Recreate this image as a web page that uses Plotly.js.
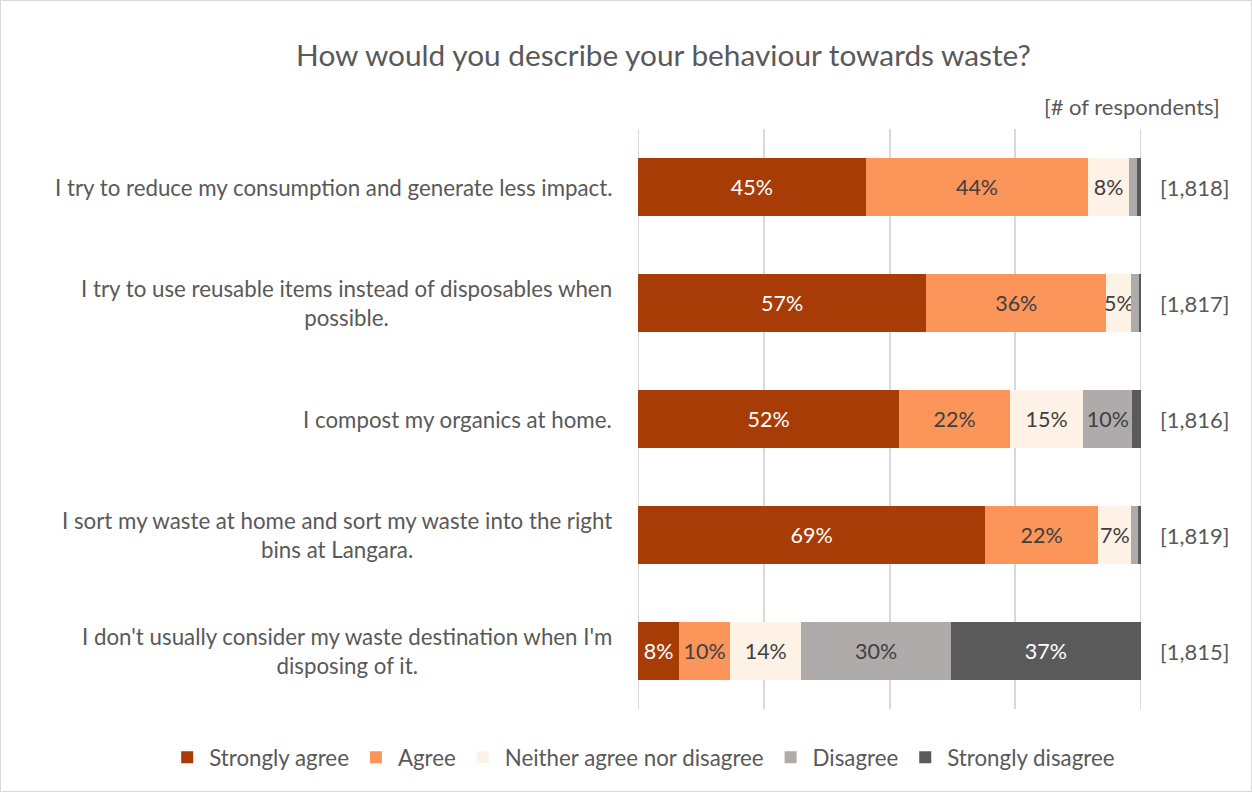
<!DOCTYPE html>
<html>
<head>
<meta charset="utf-8">
<script src="https://cdn.plot.ly/plotly-3.0.1.min.js"></script>
<style>
html,body{margin:0;padding:0;background:#fff;}
#chart{width:1252px;height:792px;box-sizing:border-box;border:1px solid #d9d9d9;}
</style>
</head>
<body>
<div id="chart"></div>
<script>
const categories = [
  "I try to reduce my consumption and generate less impact.",
  "I try to use reusable items instead of disposables when<br>possible.",
  "I compost my organics at home.",
  "I sort my waste at home and sort my waste into the right<br>bins at Langara.",
  "I don't usually consider my waste destination when I'm<br>disposing of it."
];
const respondents = ["[1,818]", "[1,817]", "[1,816]", "[1,819]", "[1,815]"];
const seriesNames = ["Strongly agree", "Agree", "Neither agree nor disagree", "Disagree", "Strongly disagree"];

// Bar lengths (% of respondents)
const stronglyAgree    = [45.3, 57.3, 51.9, 69.0, 8.2];
const agree            = [44.2, 35.8, 22.1, 22.5, 10.1];
const neither          = [8.1, 5.0, 14.5, 6.6, 14.2];
const disagree         = [1.6, 1.5, 9.8, 1.4, 29.7];
const stronglyDisagree = [0.8, 0.4, 1.7, 0.5, 37.8];

// Data labels as printed in the chart
const labelsSA  = ["45%", "57%", "52%", "69%", "8%"];
const labelsA   = ["44%", "36%", "22%", "22%", "10%"];
const labelsN   = ["8%", "5%", "15%", "7%", "14%"];
const labelsD   = ["", "", "10%", "", "30%"];
const labelsSD  = ["", "", "", "", "37%"];

// Axis grid positions
const gridTicks = [0, 25, 50, 75, 100];

const colors = ["#A83C06", "#FB955A", "#FEF1E6", "#AEABAA", "#5A5A5A"];
const textColors = ["#ffffff", "#404040", "#404040", "#404040", "#ffffff"];
const allSeries = [stronglyAgree, agree, neither, disagree, stronglyDisagree];
const allLabels = [labelsSA, labelsA, labelsN, labelsD, labelsSD];
const FONT = "Lato, 'Open Sans', sans-serif";

const traces = allSeries.map((vals, i) => ({
  type: "bar",
  orientation: "h",
  name: seriesNames[i],
  y: categories,
  x: vals,
  marker: {color: colors[i], line: {width: 0}},
  text: allLabels[i],
  textposition: "inside",
  insidetextanchor: "middle",
  textangle: 0,
  constraintext: "none",
  textfont: {family: FONT, size: 21.5, color: textColors[i]},
  hoverinfo: "x+name"
}));

const annotations = [];
categories.forEach((c, i) => {
  annotations.push({
    xref: "paper", yref: "y", x: -0.048, y: c,
    xanchor: "right", yanchor: "middle", align: "center",
    text: c, showarrow: false,
    font: {family: FONT, size: 22.3, color: "#595959"}
  });
  annotations.push({
    xref: "paper", yref: "y", x: 1.107, y: c,
    xanchor: "center", yanchor: "middle",
    text: respondents[i], showarrow: false,
    font: {family: FONT, size: 22, color: "#595959"}
  });
});
annotations.push({
  xref: "paper", yref: "paper", x: 0.983, y: 1.038,
  xanchor: "center", yanchor: "middle",
  text: "[# of respondents]", showarrow: false,
  font: {family: FONT, size: 22, color: "#595959"}
});

// Edge gridlines (0% and 100%) which Plotly omits at the plot border
const shapes = [gridTicks[0], gridTicks[gridTicks.length - 1]].map(v => ({
  type: "line", xref: "x", yref: "paper", x0: v, x1: v, y0: 0, y1: 1,
  line: {color: "#d9d9d9", width: 2}, layer: "below"
}));

const layout = {
  width: 1250, height: 790,
  margin: {l: 637, r: 110, t: 128, b: 82},
  paper_bgcolor: "#ffffff",
  plot_bgcolor: "#ffffff",
  barmode: "stack",
  bargap: 0.5,
  title: {
    text: "How would you describe your behaviour towards waste?",
    font: {family: FONT, size: 29.8, color: "#595959"},
    xref: "container", yref: "container",
    x: 0.53, y: 0.931, xanchor: "center", yanchor: "middle"
  },
  xaxis: {
    range: [0, 100], tickmode: "array", tickvals: gridTicks,
    showgrid: true, gridcolor: "#d9d9d9", gridwidth: 2,
    showticklabels: false, zeroline: false, showline: false, fixedrange: true
  },
  yaxis: {
    autorange: "reversed", showticklabels: false, showgrid: false,
    zeroline: false, showline: false, fixedrange: true
  },
  showlegend: true,
  legend: {
    orientation: "h", x: -0.94, xanchor: "left", y: -0.083, yanchor: "middle",
    font: {family: FONT, size: 22.3, color: "#595959"},
    itemwidth: 34,
    traceorder: "normal"
  },
  shapes: shapes,
  annotations: annotations
};

Plotly.newPlot("chart", traces, layout, {displayModeBar: false, staticPlot: true});
</script>
</body>
</html>
